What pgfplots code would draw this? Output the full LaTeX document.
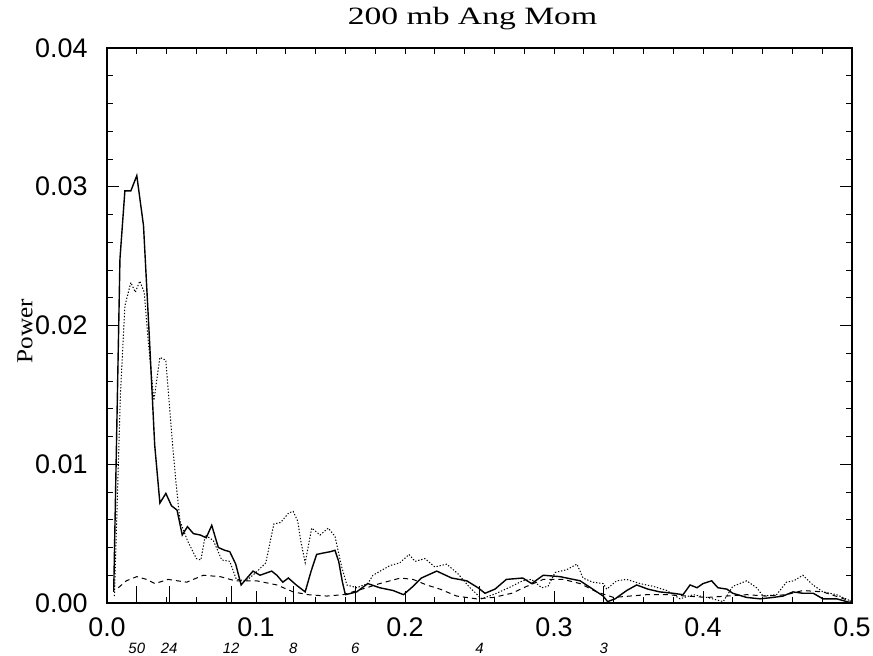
\documentclass[border=0pt]{standalone}
\usepackage{fontspec}
\usepackage{graphicx}
\usepackage{pgfplots}
\pgfplotsset{compat=1.18}
\newfontfamily\hel{Liberation Sans}
\newfontfamily\titlefont{Liberation Serif}
\begin{document}
\begin{tikzpicture}[x=1bp,y=1bp]
\path[use as bounding box] (-107,-53) rectangle (766,603);
\begin{axis}[
 name=main, at={(0,0)}, anchor=south west, scale only axis, width=745bp, height=555bp,
 xmin=0,xmax=0.5,ymin=0,ymax=0.04,
 scaled y ticks=false, scaled x ticks=false,
 axis line style={line width=1.1bp},
 tick align=inside,
 xtick={0,0.1,0.2,0.3,0.4,0.5}, xticklabels={0.0,0.1,0.2,0.3,0.4,0.5},
 ytick={0,0.01,0.02,0.03,0.04}, yticklabels={0.00,0.01,0.02,0.03,0.04},
 minor x tick num=4, minor y tick num=4,
 xtick pos=left, ytick pos=both,
 major tick length=12bp, minor tick length=6bp,
 every tick/.append style={line width=0.9bp, black},
 tick label style={font=\hel\fontsize{27}{27}\selectfont},
 xticklabel style={yshift=-11bp},
 yticklabel style={xshift=-16bp},
 extra x ticks={0.02,0.0416667,0.0833333,0.125,0.1666667,0.25,0.3333333},
 extra x tick labels={50,24,12,8,6,4,3},
 extra x tick style={major tick length=17bp, xticklabel style={font=\hel\itshape\fontsize{15}{15}\selectfont, yshift=-26bp}},
]
\addplot[black, line width=1.4bp] coordinates {
(0.0045,0.0008)(0.0087,0.0248)(0.0120,0.0297)(0.0160,0.0297)(0.0200,0.0308)(0.0245,0.0272)
(0.0285,0.0190)(0.0320,0.0114)(0.0355,0.0072)(0.0395,0.0079)(0.0433,0.0070)(0.0470,0.0067)
(0.0505,0.0049)(0.0540,0.0055)(0.0580,0.0050)(0.0626,0.0049)(0.0666,0.0047)(0.0703,0.0056)
(0.0747,0.0040)(0.0790,0.0038)(0.0824,0.0037)(0.0864,0.0028)(0.0900,0.0013)(0.0948,0.0019)
(0.0980,0.0023)(0.1027,0.0020)(0.1105,0.0023)(0.1140,0.0020)(0.1180,0.0015)(0.1217,0.0018)
(0.1270,0.0013)(0.1330,0.0008)(0.1370,0.0023)(0.1407,0.0035)(0.1450,0.0036)(0.1500,0.0037)
(0.1530,0.0038)(0.1555,0.0030)(0.1580,0.0015)(0.1600,0.0006)(0.1676,0.0008)(0.1750,0.0014)
(0.1830,0.0011)(0.1920,0.0009)(0.1990,0.0006)(0.2054,0.0012)(0.2110,0.0018)(0.2213,0.0023)
(0.2313,0.0018)(0.2414,0.0016)(0.2490,0.0011)(0.2537,0.0007)(0.2604,0.0010)(0.2680,0.0017)
(0.2790,0.0018)(0.2850,0.0014)(0.2928,0.0020)(0.3040,0.0019)(0.3175,0.0016)(0.3260,0.0010)
(0.3330,0.0005)(0.3360,0.0001)(0.3410,0.0003)(0.3488,0.0009)(0.3555,0.0013)(0.3630,0.0010)
(0.3710,0.0008)(0.3800,0.0007)(0.3866,0.0006)(0.3913,0.0013)(0.3960,0.0011)(0.4000,0.0014)
(0.4058,0.0016)(0.4100,0.0011)(0.4160,0.0010)(0.4200,0.0007)(0.4293,0.0004)(0.4383,0.0003)
(0.4470,0.0004)(0.4537,0.0005)(0.4604,0.0008)(0.4670,0.0007)(0.4740,0.0007)(0.4805,0.0003)
(0.4897,0.0003)(0.5000,0.0000)
};
\addplot[black, line width=1bp, dash pattern=on 1.3bp off 1.8bp] coordinates {
(0.0050,0.0005)(0.0090,0.0150)(0.0120,0.0214)(0.0160,0.0231)(0.0190,0.0224)(0.0220,0.0232)
(0.0250,0.0224)(0.0280,0.0185)(0.0315,0.0146)(0.0355,0.0177)(0.0395,0.0175)(0.0430,0.0127)
(0.0460,0.0090)(0.0490,0.0059)(0.0540,0.0045)(0.0600,0.0032)(0.0630,0.0031)(0.0660,0.0049)
(0.0714,0.0045)(0.0770,0.0031)(0.0824,0.0030)(0.0868,0.0017)(0.0934,0.0016)(0.1000,0.0022)
(0.1066,0.0029)(0.1120,0.0057)(0.1165,0.0058)(0.1220,0.0065)(0.1250,0.0066)(0.1280,0.0059)
(0.1300,0.0045)(0.1330,0.0029)(0.1374,0.0054)(0.1430,0.0049)(0.1485,0.0054)(0.1530,0.0048)
(0.1575,0.0026)(0.1610,0.0013)(0.1676,0.0011)(0.1750,0.0014)(0.1785,0.0020)(0.1850,0.0024)
(0.1900,0.0027)(0.1966,0.0029)(0.2027,0.0035)(0.2067,0.0030)(0.2134,0.0032)(0.2200,0.0026)
(0.2280,0.0028)(0.2356,0.0021)(0.2436,0.0011)(0.2515,0.0003)(0.2615,0.0007)(0.2716,0.0012)
(0.2790,0.0016)(0.2850,0.0017)(0.2917,0.0011)(0.2960,0.0012)(0.3007,0.0022)(0.3085,0.0024)
(0.3154,0.0028)(0.3195,0.0018)(0.3260,0.0015)(0.3330,0.0014)(0.3354,0.0010)(0.3420,0.0016)
(0.3488,0.0017)(0.3577,0.0014)(0.3665,0.0012)(0.3757,0.0009)(0.3846,0.0003)(0.3935,0.0006)
(0.4027,0.0004)(0.4136,0.0001)(0.4200,0.0012)(0.4293,0.0016)(0.4360,0.0011)(0.4403,0.0005)
(0.4494,0.0006)(0.4560,0.0015)(0.4610,0.0016)(0.4670,0.0020)(0.4738,0.0013)(0.4805,0.0008)
(0.4897,0.0006)(0.5000,0.0001)
};
\addplot[black, line width=1bp, dash pattern=on 5bp off 4bp] coordinates {
(0.0076,0.0011)(0.0130,0.0016)(0.0200,0.0019)(0.0266,0.0017)(0.0322,0.0014)(0.0410,0.0017)
(0.0535,0.0015)(0.0646,0.0020)(0.0760,0.0019)(0.0860,0.0016)(0.1004,0.0016)(0.1140,0.0013)
(0.1250,0.0008)(0.1350,0.0006)(0.1475,0.0005)(0.1585,0.0006)(0.1743,0.0011)(0.1830,0.0014)
(0.1900,0.0016)(0.1970,0.0018)(0.2054,0.0017)(0.2145,0.0013)(0.2235,0.0010)(0.2347,0.0005)
(0.2480,0.0003)(0.2593,0.0004)(0.2716,0.0007)(0.2817,0.0012)(0.2928,0.0017)(0.3063,0.0017)
(0.3175,0.0014)(0.3286,0.0008)(0.3400,0.0004)(0.3510,0.0005)(0.3622,0.0006)(0.3757,0.0006)
(0.3890,0.0005)(0.4027,0.0004)(0.4160,0.0005)(0.4293,0.0006)(0.4427,0.0005)(0.4560,0.0006)
(0.4670,0.0009)(0.4805,0.0008)(0.4918,0.0004)(0.5000,0.0001)
};
\end{axis}
\begin{axis}[
 at={(0,0)}, anchor=south west, scale only axis, width=745bp, height=555bp,
 xmin=0,xmax=0.5,ymin=0,ymax=0.04,
 hide y axis, axis x line*=top, tick align=inside,
 xtick={0.02,0.04,0.06,0.08,0.1,0.12,0.14,0.16,0.18,0.2,0.22,0.24,0.26,0.28,0.3,0.32,0.34,0.36,0.38,0.4,0.42,0.44,0.46,0.48},
 xticklabels={}, major tick length=6bp,
 axis line style={line width=1.1bp},
 every tick/.append style={line width=0.9bp, black},
]
\end{axis}
\node[anchor=base, font=\titlefont\fontsize{25}{25}\selectfont] at ([xshift=-7bp,yshift=23bp]main.north) {\scalebox{1.35}[1]{200 mb Ang Mom}};
\node[font=\titlefont\fontsize{23}{23}\selectfont, inner sep=0pt] at (-82,272) {\rotatebox{90}{\scalebox{1.1}[1]{Power}}};
\end{tikzpicture}
\end{document}
